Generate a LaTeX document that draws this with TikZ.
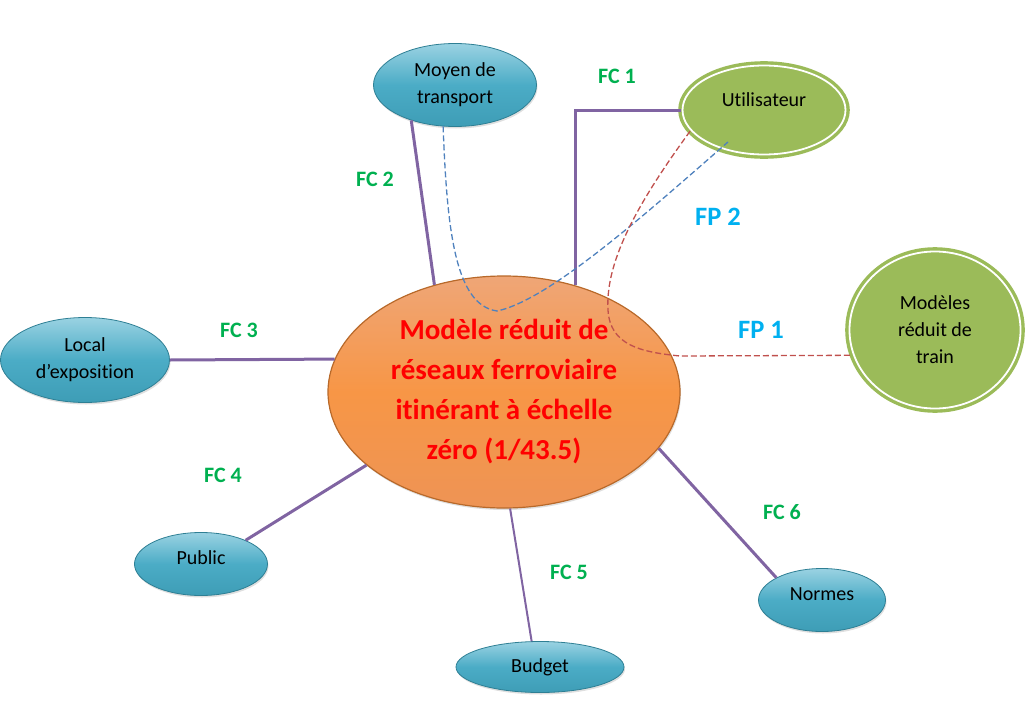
\documentclass[tikz,border=0pt]{standalone}
\usepackage{fontspec}
\setmainfont{Carlito}[Ligatures=NoCommon]
\usetikzlibrary{shapes.geometric,shadows,calc}
\definecolor{fcpurple}{HTML}{8064A2}
\definecolor{fcgreen}{HTML}{00B050}
\definecolor{fpblue}{HTML}{00B0F0}
\definecolor{dashblue}{HTML}{4F81BD}
\definecolor{dashred}{HTML}{C0504D}
\definecolor{nodegreen}{HTML}{9BBB59}
\definecolor{bluetop}{HTML}{9AD2E2}
\definecolor{bluemid}{HTML}{4BACC6}
\definecolor{bluebot}{HTML}{3E9DB6}
\definecolor{blueedge}{HTML}{2E7F94}
\definecolor{orangetop}{HTML}{EFA677}
\definecolor{orangemid}{HTML}{F79646}
\definecolor{orangebot}{HTML}{EE9455}
\definecolor{orangeedge}{HTML}{B8692A}
\begin{document}
\begin{tikzpicture}[x=1pt,y=-1pt,
  nodefont/.style={font=\fontsize{20}{27}\selectfont},
  bluenode/.style={ellipse, inner sep=0pt, top color=bluetop, bottom color=bluebot, middle color=bluemid,
    draw=blueedge, line width=0.8pt, nodefont, align=center, text=black,
    drop shadow={opacity=0.25,shadow xshift=1pt,shadow yshift=-2pt}},
  greennode/.style={ellipse, inner sep=0pt, fill=nodegreen, draw=nodegreen, double=white,
    double distance=1.8pt, line width=3.4pt, nodefont, align=center, text=black},
  centralnode/.style={ellipse, inner sep=0pt, top color=orangetop, bottom color=orangebot, middle color=orangemid,
    draw=orangeedge, line width=1.2pt,
    drop shadow={opacity=0.25,shadow xshift=1pt,shadow yshift=-2pt}},
  centraltext/.style={text=red, align=center, font=\fontsize{29}{40}\selectfont\bfseries},
  fcline/.style={draw=fcpurple, line width=3pt},
  fclabel/.style={text=fcgreen, font=\fontsize{22}{22}\selectfont\bfseries},
  fplabel/.style={text=fpblue, font=\fontsize{26.5}{26.5}\selectfont\bfseries},
  bluedash/.style={draw=dashblue, line width=1.3pt, dash pattern=on 6pt off 3pt},
  reddash/.style={draw=dashred, line width=1.3pt, dash pattern=on 6pt off 3pt}
]
\useasboundingbox (0,0) rectangle (1031,720);

% nodes
\node[centralnode, minimum width=352pt, minimum height=232pt] (central) at (504,392) {};
\node[centraltext] (centraltxt) at (central.center) {Modèle réduit de\\réseaux ferroviaire\\itinérant à échelle\\zéro (1/43.5)};
\node[bluenode, minimum width=163pt, minimum height=83pt] (moyen) at (455,85) {Moyen de\\transport};
\node[greennode, minimum width=163pt, minimum height=89pt] (util) at (764,110) {};
\node[nodefont] (utiltxt) at ([yshift=10pt]util.center) {Utilisateur};
\node[greennode, minimum width=171pt, minimum height=157pt] (modeles) at (935,330) {Modèles\\réduit de\\train};
\node[bluenode, minimum width=169pt, minimum height=85pt] (local) at (85,360) {Local\\d’exposition};
\node[bluenode, minimum width=133pt, minimum height=63pt] (public) at (201,564) {};
\node[nodefont] (publictxt) at ([yshift=6pt]public.center) {Public};
\node[bluenode, minimum width=168pt, minimum height=51pt] (budget) at (540,667) {Budget};
\node[bluenode, minimum width=127pt, minimum height=63pt] (normes) at (822,600) {};
\node[nodefont] (normestxt) at ([yshift=6pt]normes.center) {Normes};

% connectors
\draw[fcline] (moyen.219) -- (central.123);
\draw[fcline] (central.56.8) |- (util.west);
\draw[fcline] (local.east) -- (central.169.3);
\draw[fcline] (public.28.6) -- (central.208);
\draw[fcline, line width=2pt] (central.273.4) -- (budget.108);
\draw[fcline] (central.340.8) -- (normes.154.4);

% dashed flows
\draw[bluedash] (moyen.254) .. controls (447,230) and (455,305) .. (497,311)
  .. controls (550,300) and (650,210) .. ($(util.center)+(-36,32)$);
\draw[reddash] (util.196.6) .. controls (640,200) and (605,260) .. (608,310)
  .. controls (610,345) and (640,352) .. (680,356) -- (modeles.197.2);

% labels
\node[fclabel] (fc1) at (617,76) {FC 1};
\node[fclabel] (fc2) at (375,179) {FC 2};
\node[fclabel] (fc3) at (239,330) {FC 3};
\node[fclabel] (fc4) at (223,475) {FC 4};
\node[fclabel] (fc5) at (569,572) {FC 5};
\node[fclabel] (fc6) at (782,512) {FC 6};
\node[fplabel] (fp2) at (718,217) {FP 2};
\node[fplabel] (fp1) at (761,330) {FP 1};
\end{tikzpicture}
\end{document}
